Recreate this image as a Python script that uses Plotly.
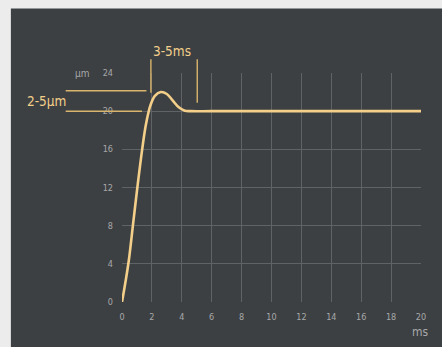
import plotly.graph_objects as go

# Step response: displacement (μm) over time (ms)
time_ms = [0, 0.2, 0.45, 0.75, 1.05, 1.35, 1.6, 1.9, 2.2, 2.6, 3.0, 3.4, 3.8, 4.2, 4.6, 6, 10, 14, 20]
disp_um = [0, 1.8, 4.3, 8.3, 12.3, 16, 18.6, 20.6, 21.6, 22, 21.8, 21.1, 20.4, 20.05, 20, 20, 20, 20, 20]

x_ticks = [0, 2, 4, 6, 8, 10, 12, 14, 16, 18, 20]
y_ticks = [0, 4, 8, 12, 16, 20, 24]

W, H = 442, 347
L, R, T, B = 121.5, 20.5, 73.3, 45.3
pw, ph = W - L - R, H - T - B

def px(x):
    return (x - L) / pw

def py(y):
    return (H - B - y) / ph

PANEL = "#3d4043"
GOLD = "#f3cf8a"
GOLD_LINE = "#d9b46c"
TICK = "#a7a8a9"
GRID = "#606366"
NARROW = "Liberation Sans Narrow, DejaVu Sans Condensed, sans-serif"

fig = go.Figure()
fig.add_trace(go.Scatter(
    x=time_ms, y=disp_um, mode="lines",
    line=dict(color=GOLD, width=2.6, shape="spline", smoothing=1.0),
    hoverinfo="skip", showlegend=False,
))

shapes = [
    # dark panel behind the chart
    dict(type="rect", xref="paper", yref="paper", x0=px(10), x1=px(W + 2), y0=py(H + 2), y1=py(9),
         fillcolor=PANEL, line=dict(width=0), layer="below"),
    # overshoot time bracket
    dict(type="line", xref="paper", yref="paper", x0=px(150.5), x1=px(150.5), y0=py(59.5), y1=py(93),
         line=dict(color=GOLD_LINE, width=1.4)),
    dict(type="line", xref="paper", yref="paper", x0=px(197), x1=px(197), y0=py(59.5), y1=py(103),
         line=dict(color=GOLD_LINE, width=1.4)),
    # overshoot amplitude bracket
    dict(type="line", xref="paper", yref="paper", x0=px(65), x1=px(146), y0=py(91), y1=py(91),
         line=dict(color=GOLD_LINE, width=1.4)),
    dict(type="line", xref="paper", yref="paper", x0=px(65), x1=px(141.5), y0=py(111.5), y1=py(111.5),
         line=dict(color=GOLD_LINE, width=1.4)),
]

annotations = [
    dict(text="3-5ms", xref="paper", yref="paper", x=px(171.5), y=py(51), showarrow=False,
         xanchor="center", yanchor="middle", font=dict(family=NARROW, size=13.5, color=GOLD)),
    dict(text="2-5μm", xref="paper", yref="paper", x=px(46), y=py(101.5), showarrow=False,
         xanchor="center", yanchor="middle", font=dict(family=NARROW, size=13.5, color=GOLD)),
    dict(text="μm", xref="paper", yref="paper", x=px(82), y=py(74), showarrow=False,
         xanchor="center", yanchor="middle", font=dict(family=NARROW, size=10, color=TICK)),
    dict(text="ms", xref="paper", yref="paper", x=px(421), y=py(332), showarrow=False,
         xanchor="center", yanchor="middle", font=dict(family=NARROW, size=12, color=TICK)),
]

fig.update_layout(
    width=W, height=H,
    margin=dict(l=L, r=R, t=T, b=B, pad=0),
    paper_bgcolor="#ececec",
    plot_bgcolor=PANEL,
    shapes=shapes,
    annotations=annotations,
    xaxis=dict(range=[0, 20], tickvals=x_ticks, ticktext=[str(v) for v in x_ticks],
               showgrid=True, gridcolor=GRID, gridwidth=1, zeroline=False, showline=False,
               ticks="", ticklabelstandoff=8,
               tickfont=dict(family=NARROW, size=9, color=TICK)),
    yaxis=dict(range=[0, 24], tickvals=y_ticks, ticktext=[str(v) for v in y_ticks],
               showgrid=True, gridcolor=GRID, gridwidth=1, zeroline=False, showline=False,
               ticks="", ticklabelstandoff=8,
               tickfont=dict(family=NARROW, size=9, color=TICK)),
)

fig.write_html("out.html")
